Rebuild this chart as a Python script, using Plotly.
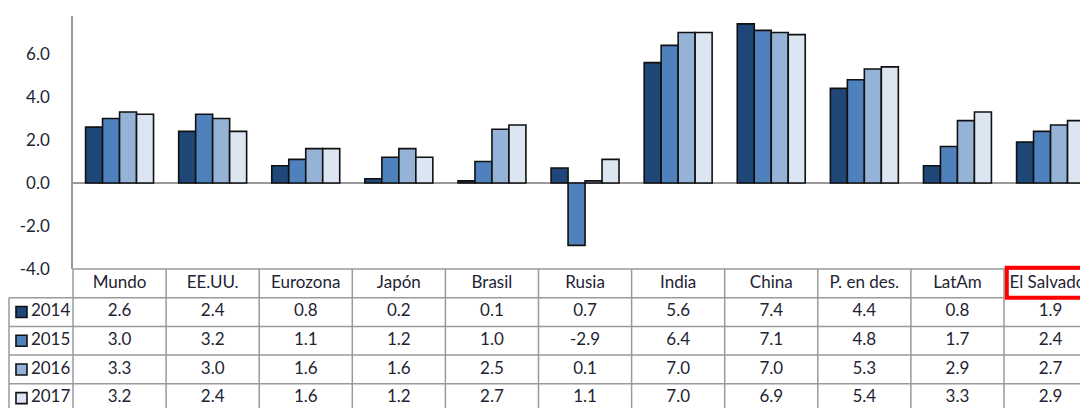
import plotly.graph_objects as go

CATEGORIES = ["Mundo", "EE.UU.", "Eurozona", "Japón", "Brasil", "Rusia",
              "India", "China", "P. en des.", "LatAm", "El Salvador"]
YEARS = ["2014", "2015", "2016", "2017"]
V2014 = [2.6, 2.4, 0.8, 0.2, 0.1, 0.7, 5.6, 7.4, 4.4, 0.8, 1.9]
V2015 = [3.0, 3.2, 1.1, 1.2, 1.0, -2.9, 6.4, 7.1, 4.8, 1.7, 2.4]
V2016 = [3.3, 3.0, 1.6, 1.6, 2.5, 0.1, 7.0, 7.0, 5.3, 2.9, 2.7]
V2017 = [3.2, 2.4, 1.6, 1.2, 2.7, 1.1, 7.0, 6.9, 5.4, 3.3, 2.9]
Y_TICKS = [-4, -2, 0, 2, 4, 6]
HIGHLIGHT = "El Salvador"

SERIES = [V2014, V2015, V2016, V2017]
COLORS = ["#1F4778", "#4F81BD", "#95B3D7", "#DCE6F2"]

FONT = "Lato, 'Open Sans', sans-serif"
TEXT_COLOR = "#1e2433"
GRID = "#9a9a9a"
FS = 17

# the page body adds an 8px offset, so the figure is 8px smaller
OFF = 8
W, H = 1088 - OFF, 408 - OFF
AX_LEFT = 73 - OFF        # px of y axis line
COL_W = 93.1              # px per category
PLOT_TOP, PLOT_BOT = 16 - OFF, 269 - OFF
ROW_H = 28.7
LEG_LEFT = 9 - OFF

n = len(CATEGORIES)
x_right = -0.5 + (W - AX_LEFT) / COL_W
x2_left = -0.5 - AX_LEFT / COL_W
leg_left = -0.5 - (AX_LEFT - LEG_LEFT) / COL_W
unit_px = 21.5
y_top = (PLOT_BOT - PLOT_TOP) / unit_px - 4

fig = go.Figure()

for year, vals, color in zip(YEARS, SERIES, COLORS):
    fig.add_trace(go.Bar(
        x=CATEGORIES, y=vals, name=year,
        marker=dict(color=color, line=dict(color="#111111", width=1.6)),
        xaxis="x", yaxis="y", showlegend=False,
    ))

# data table below the chart
rows = len(YEARS)
for r, (year, vals, color) in enumerate(zip(YEARS, SERIES, COLORS)):
    fig.add_trace(go.Scatter(
        x=list(range(n)), y=[r + 1.5] * n, mode="text",
        text=[f"{v:.1f}" for v in vals],
        textfont=dict(family=FONT, size=FS, color=TEXT_COLOR),
        xaxis="x2", yaxis="y2", showlegend=False, hoverinfo="skip",
    ))
    fig.add_trace(go.Scatter(
        x=[leg_left + 0.134], y=[r + 1.5], mode="markers",
        marker=dict(symbol="square", size=11, color=color,
                    line=dict(color="#111111", width=1.6)),
        xaxis="x2", yaxis="y2", showlegend=False, hoverinfo="skip",
    ))
    fig.add_trace(go.Scatter(
        x=[leg_left + 0.235], y=[r + 1.5], mode="text", text=[year],
        textposition="middle right",
        textfont=dict(family=FONT, size=FS, color=TEXT_COLOR),
        xaxis="x2", yaxis="y2", showlegend=False, hoverinfo="skip",
    ))

fig.add_trace(go.Scatter(
    x=list(range(n)), y=[0.5] * n, mode="text", text=CATEGORIES,
    textfont=dict(family=FONT, size=FS, color=TEXT_COLOR),
    xaxis="x2", yaxis="y2", showlegend=False, hoverinfo="skip",
))

shapes = []
line = dict(color=GRID, width=1.5)
for k in range(n + 1):
    shapes.append(dict(type="line", xref="x2", yref="y2", x0=k - 0.5, x1=k - 0.5,
                       y0=0, y1=rows + 1, line=line))
shapes.append(dict(type="line", xref="x2", yref="y2", x0=-0.5, x1=x_right + 1,
                   y0=0, y1=0, line=line))
for r in range(1, rows + 2):
    shapes.append(dict(type="line", xref="x2", yref="y2", x0=leg_left, x1=x_right + 1,
                       y0=r, y1=r, line=line))
shapes.append(dict(type="line", xref="x2", yref="y2", x0=leg_left, x1=leg_left,
                   y0=1, y1=rows + 1, line=line))
hi = CATEGORIES.index(HIGHLIGHT)
shapes.append(dict(type="rect", xref="x2", yref="y2", x0=hi - 0.47, x1=hi + 0.6,
                   y0=-0.04, y1=1.0, line=dict(color="#FF0000", width=4)))

fig.update_layout(
    width=W, height=H,
    margin=dict(l=0, r=0, t=0, b=0, autoexpand=False),
    paper_bgcolor="white", plot_bgcolor="rgba(0,0,0,0)",
    barmode="group", bargap=0.27, bargroupgap=0,
    font=dict(family=FONT, color=TEXT_COLOR),
    shapes=shapes,
    xaxis=dict(domain=[AX_LEFT / W, 1], range=[-0.5, x_right], type="category",
               showticklabels=False, showgrid=False, zeroline=False, showline=False,
               anchor="y", automargin=False),
    yaxis=dict(domain=[(H - PLOT_BOT) / H, (H - PLOT_TOP) / H], range=[-4, y_top],
               tickmode="array", tickvals=Y_TICKS,
               ticktext=[f"{v:.1f}" for v in Y_TICKS], showgrid=False,
               zeroline=True, zerolinecolor=GRID, zerolinewidth=1.5,
               showline=True, linecolor=GRID, linewidth=1.5, ticks="",
               ticklabelstandoff=18, tickfont=dict(family=FONT, size=FS, color=TEXT_COLOR),
               anchor="x", automargin=False),
    xaxis2=dict(domain=[0, 1], range=[x2_left, x_right], visible=False, anchor="y2",
                automargin=False),
    yaxis2=dict(domain=[0, (H - PLOT_BOT + 5) / H],
                range=[(H - PLOT_BOT) / ROW_H, -5 / ROW_H], visible=False, anchor="x2",
                automargin=False),
)

fig.write_html("out.html")
